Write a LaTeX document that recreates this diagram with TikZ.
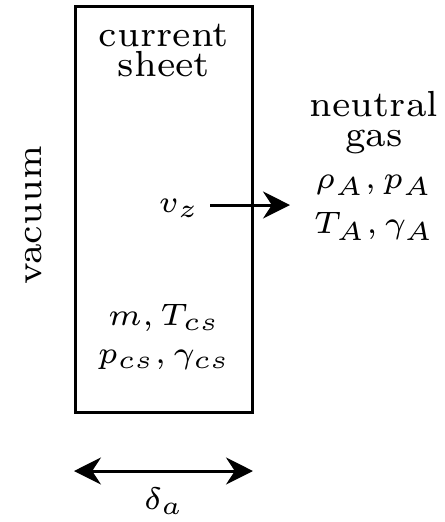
\documentclass[tikz,border=0pt]{standalone}
\usetikzlibrary{arrows.meta}
\tikzset{
  cs/label/.style={
    font=\fontsize{7}{5.8}\selectfont,
    align=center,
    inner sep=0pt
  },
  cs/math/.style={
    font=\fontsize{6}{7}\selectfont,
    inner sep=0pt
  },
  cs/sheet/.style={
    draw,
    line width=0.58pt,
    minimum width=34.35pt,
    minimum height=78.2pt,
    inner sep=0pt
  },
  cs/arrow/.style={-{Stealth[length=5.2pt,width=5.2pt]}, line width=0.58pt},
  cs/dblarrow/.style={{Stealth[length=5.2pt,width=5.2pt]}-{Stealth[length=5.2pt,width=5.2pt]}, line width=0.58pt}
}

\begin{document}
\begin{tikzpicture}[x=0.193pt,y=-0.193pt]
  \useasboundingbox (0,0) rectangle (445,522);
  % current sheet and its quantities
  \node[cs/sheet] (sheet) at (164,209.5) {};
  \node[cs/label,anchor=north] (sheettitle) at (164,23) {current\\sheet};
  \node[cs/math,anchor=base] (csmass) at (164,325) {$m, T_{cs}$};
  \node[cs/math,anchor=base] (cspress) at (164,363) {$p_{cs}, \gamma_{cs}$};
  \node[cs/math,anchor=base] (vz) at (179,212) {$v_z$};
  % sides
  \node[cs/label,rotate=90] (vacuum) at (34,215) {vacuum};
  \node[cs/label,anchor=north] (gastitle) at (374,90) {neutral\\gas};
  \node[cs/math,anchor=base] (gasrho) at (374,188) {$\rho_A, p_A$};
  \node[cs/math,anchor=base] (gastemp) at (374,233) {$T_A, \gamma_A$};
  \coordinate (gasedge) at (290,205);
  \draw[cs/arrow,shorten <=1.9pt] (vz.east |- gasedge) -- (gasedge);
  % thickness
  \coordinate (dleft) at (74,471);
  \coordinate (dright) at (253,471);
  \draw[cs/dblarrow] (dleft) -- (dright);
  \node[cs/math,anchor=base] (delta) at (164,509) {$\delta_a$};
\end{tikzpicture}
\end{document}
